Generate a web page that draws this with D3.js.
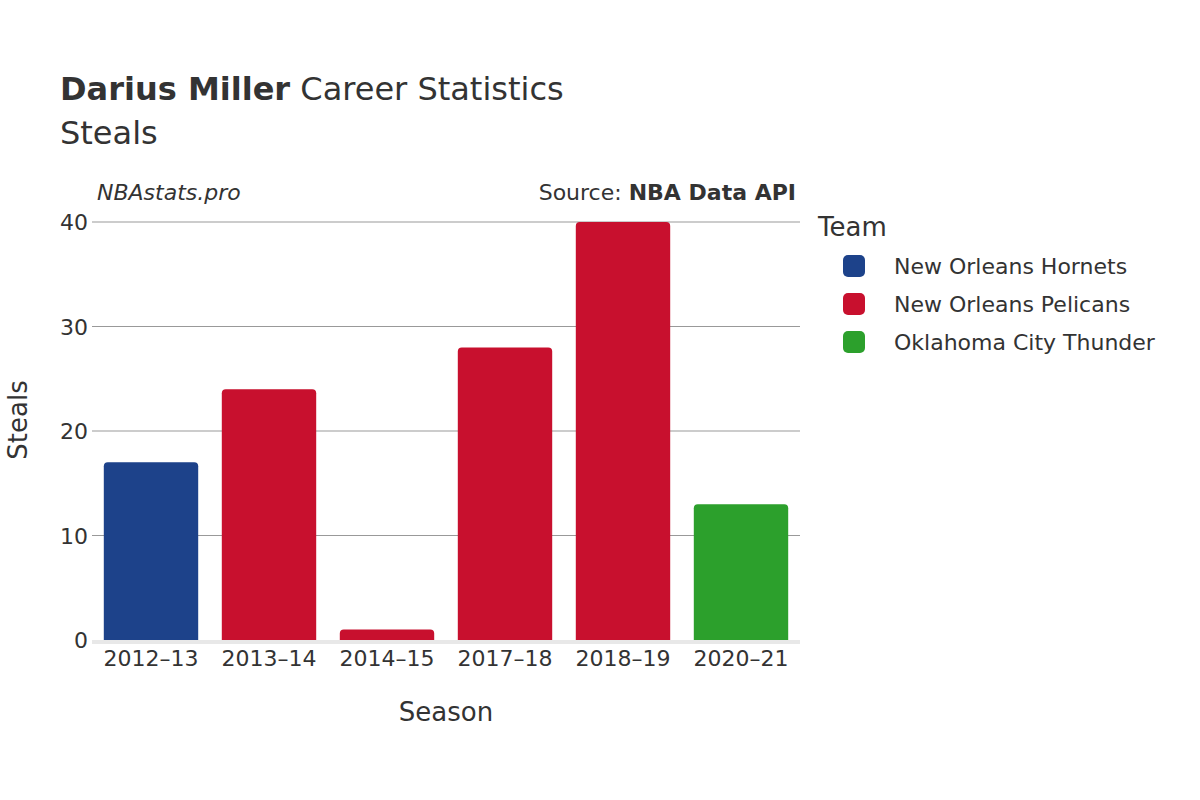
<!DOCTYPE html>
<html><head><meta charset="utf-8">
<script src="https://cdn.jsdelivr.net/npm/d3@7"></script>
<style>body{margin:0;background:#fff}text{font-family:"DejaVu Sans",sans-serif;fill:#333}</style>
</head><body><svg id="c" width="1200" height="800"></svg>
<script>
const seasons=["2012–13","2013–14","2014–15","2017–18","2018–19","2020–21"];
const steals=[17,24,1,28,40,13];
const teams=["New Orleans Hornets","New Orleans Pelicans","New Orleans Pelicans","New Orleans Pelicans","New Orleans Pelicans","Oklahoma City Thunder"];
const legendTeams=["New Orleans Hornets","New Orleans Pelicans","Oklahoma City Thunder"];
const colors=["#1d428a","#c8102e","#2ca02c"];
const yTicks=[0,10,20,30,40];

const svg=d3.select("#c");
const color=d3.scaleOrdinal(legendTeams,colors);
const x=d3.scaleBand(seasons,[92,800]).paddingInner(0.2).paddingOuter(0.1);
const y=d3.scaleLinear([0,40],[640,222]);

svg.append("g").selectAll("line").data(yTicks.slice(1)).join("line")
 .attr("x1",92).attr("x2",800).attr("y1",d=>y(d)).attr("y2",d=>y(d)).attr("stroke","#999").attr("stroke-width",1);
svg.append("line").attr("x1",92).attr("x2",800).attr("y1",y(0)+2).attr("y2",y(0)+2).attr("stroke","#e8e8e8").attr("stroke-width",4);

svg.append("g").selectAll("path").data(seasons).join("path")
 .attr("fill",(d,i)=>color(teams[i]))
 .attr("d",(d,i)=>{const x0=x(d),w=x.bandwidth(),y0=y(steals[i]),h=y(0)-y0,r=Math.min(4,h/2);
   return `M${x0},${y0+h}V${y0+r}Q${x0},${y0} ${x0+r},${y0}H${x0+w-r}Q${x0+w},${y0} ${x0+w},${y0+r}V${y0+h}Z`;});

svg.append("g").selectAll("text").data(yTicks).join("text")
 .attr("x",88).attr("y",d=>y(d)+8).attr("text-anchor","end").attr("font-size",22).text(d=>d);
svg.append("g").selectAll("text").data(seasons).join("text")
 .attr("x",d=>x(d)+x.bandwidth()/2).attr("y",666).attr("text-anchor","middle").attr("font-size",22).text(d=>d);

svg.append("text").attr("x",446).attr("y",721).attr("text-anchor","middle").attr("font-size",26).text("Season");
svg.append("text").attr("transform","translate(27,420) rotate(-90)").attr("text-anchor","middle").attr("font-size",26).text("Steals");

const t=svg.append("text").attr("x",60).attr("y",100).attr("font-size",32);
t.append("tspan").attr("font-weight","bold").text("Darius Miller");
t.append("tspan").text(" Career Statistics");
svg.append("text").attr("x",60).attr("y",144).attr("font-size",32).text("Steals");
svg.append("text").attr("x",97).attr("y",200).attr("font-size",22).attr("font-style","italic").text("NBAstats.pro");
const s=svg.append("text").attr("x",796).attr("y",200).attr("font-size",22).attr("text-anchor","end");
s.append("tspan").text("Source: ");s.append("tspan").attr("font-weight","bold").text("NBA Data API");

svg.append("text").attr("x",818).attr("y",236).attr("font-size",26).text("Team");
const lg=svg.append("g").selectAll("g").data(legendTeams).join("g").attr("transform",(d,i)=>`translate(0,${266+i*38})`);
lg.append("rect").attr("x",843).attr("y",-11).attr("width",22).attr("height",22).attr("rx",5).attr("fill",d=>color(d));
lg.append("text").attr("x",894).attr("y",8).attr("font-size",22).text(d=>d);
</script></body></html>
